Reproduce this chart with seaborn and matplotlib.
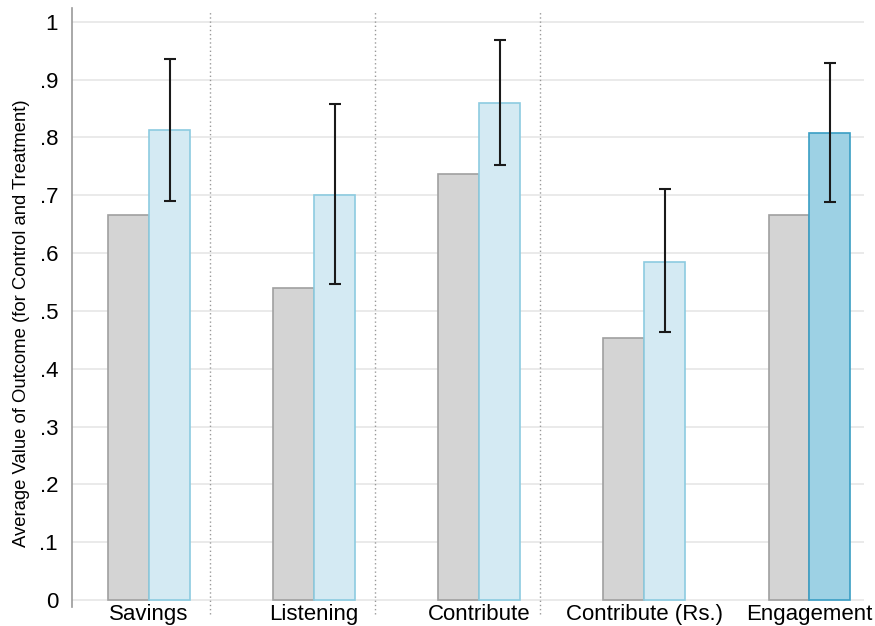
import matplotlib
matplotlib.use("Agg")
import matplotlib.pyplot as plt
import seaborn as sns
import pandas as pd
import numpy as np

# values
outcomes = ["Savings", "Listening", "Contribute", "Contribute (Rs.)", "Engagement"]
control = [0.666, 0.539, 0.737, 0.454, 0.666]
treatment = [0.813, 0.700, 0.860, 0.584, 0.808]
ci_low = [0.690, 0.546, 0.752, 0.463, 0.688]
ci_high = [0.936, 0.858, 0.969, 0.711, 0.929]
ytick_vals = [0, 0.1, 0.2, 0.3, 0.4, 0.5, 0.6, 0.7, 0.8, 0.9, 1.0]
ytick_labels = ["0", ".1", ".2", ".3", ".4", ".5", ".6", ".7", ".8", ".9", "1"]

df = pd.DataFrame({
    "outcome": outcomes * 2,
    "group": ["Control"] * 5 + ["Treatment"] * 5,
    "value": control + treatment,
})

sns.set_style("white")
plt.rcParams["font.family"] = ["Liberation Sans", "DejaVu Sans"]

fig = plt.figure(figsize=(8.75, 6.26), dpi=100)
ax = fig.add_axes([0.0823, 0.0303, 0.905, 0.957])

sns.barplot(data=df, x="outcome", y="value", hue="group", order=outcomes,
            width=0.495, ax=ax, legend=False, zorder=2)

gray_fill, gray_edge = "#d4d4d4", "#a0a0a0"
blue_fill, blue_edge = "#d4eaf3", "#8ccbe0"
dark_fill, dark_edge = "#9dd1e4", "#3a9ec4"

bars = ax.patches
ctrl_bars = bars[:5]
trt_bars = bars[5:10]
for p in ctrl_bars:
    p.set_facecolor(gray_fill)
    p.set_edgecolor(gray_edge)
    p.set_linewidth(1.2)
for i, p in enumerate(trt_bars):
    if outcomes[i] == "Engagement":
        p.set_facecolor(dark_fill)
        p.set_edgecolor(dark_edge)
    else:
        p.set_facecolor(blue_fill)
        p.set_edgecolor(blue_edge)
    p.set_linewidth(1.2)

# confidence intervals on treatment bars
xs = [p.get_x() + p.get_width() / 2 for p in trt_bars]
lo = np.array(treatment) - np.array(ci_low)
hi = np.array(ci_high) - np.array(treatment)
ax.errorbar(xs, treatment, yerr=[lo, hi], fmt="none", ecolor="#1a1a1a",
            elinewidth=1.5, capsize=4.5, capthick=1.5, zorder=3)

# dotted separators (sit right of each group, as in the original)
for x in [0.37, 1.37, 2.37]:
    ax.axvline(x, ymin=-0.012, ymax=0.995, color="#999999", linestyle=(0, (1, 2)),
               linewidth=1, clip_on=False, zorder=1)

ax.set_xlim(-0.467, 4.33)
ax.set_ylim(-0.012, 1.024)
ax.set_yticks(ytick_vals)
ax.set_yticklabels(ytick_labels, fontsize=16, color="black")
ax.yaxis.grid(True, color="#e6e6e6", linewidth=1.2)
ax.set_axisbelow(True)
ax.tick_params(axis="y", length=6, width=1, color="#888888", pad=4)
ax.tick_params(axis="x", length=0, labelsize=16, labelcolor="black", pad=-2)
ax.set_xlabel("")
ax.set_ylabel("Average Value of Outcome (for Control and Treatment)",
              fontsize=13.3, color="black")
ax.yaxis.set_label_coords(-0.053, 0.474)

for s in ["top", "right", "bottom"]:
    ax.spines[s].set_visible(False)
ax.spines["left"].set_color("#999999")
ax.spines["left"].set_linewidth(1.2)

fig.savefig("out.png", dpi=100)
